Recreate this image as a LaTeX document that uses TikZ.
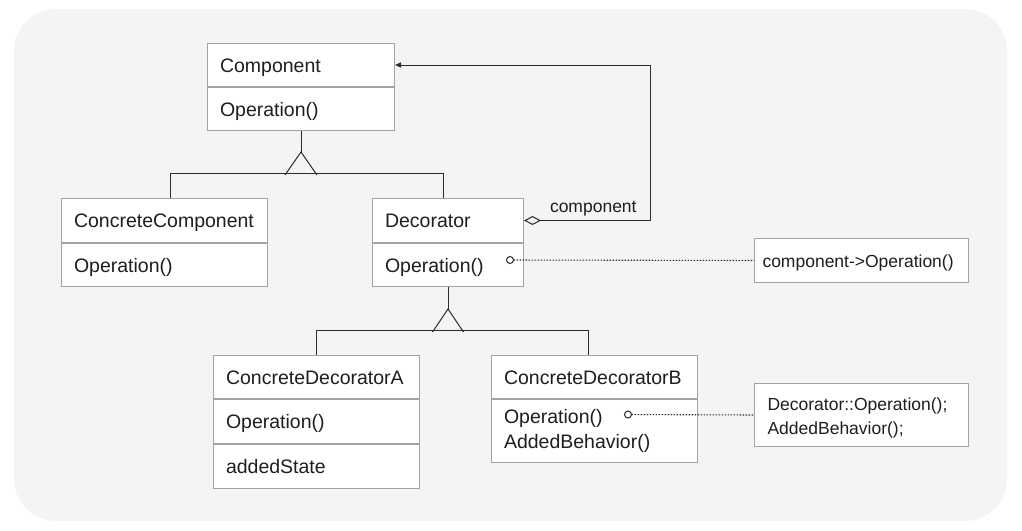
\documentclass[tikz,border=0pt]{standalone}
\usepackage{fontspec}
\setmainfont{Liberation Sans}
\usetikzlibrary{arrows.meta,calc}
\definecolor{panel}{HTML}{F4F4F2}
\definecolor{boxline}{HTML}{A3A3A3}
\definecolor{wire}{HTML}{2B2B2B}
\definecolor{ink}{HTML}{1E1E1E}
\newcommand\classfont{\fontsize{19.5}{25}\selectfont}
\newcommand\notefont{\fontsize{17.5}{24}\selectfont}

\begin{document}
\begin{tikzpicture}[x=1pt,y=-1pt,
  cell/.style={draw=boxline, fill=white, line width=1pt, anchor=north west,
    inner xsep=12.5pt, inner ysep=0pt, align=left, font=\classfont, text=ink},
  oneline/.style={text height=14pt, text depth=0pt},
  notebox/.style={cell, font=\notefont},
  wireline/.style={draw=wire, line width=1pt},
  dotline/.style={draw=wire, line width=1.1pt, dash pattern=on 1.5pt off 1.5pt,
    {Circle[open,length=8pt,width=8pt,line width=1pt]}-},
  lbl/.style={font=\notefont, text=ink, inner sep=0pt},
]
\useasboundingbox (0,0) rectangle (1022,530);
\fill[panel, rounded corners=42pt] (14,9) rectangle (1007,521);

% Component
\node[cell, oneline, text width=162pt, minimum height=43pt] (comph) at (207,43) {Component};
\node[cell, oneline, text width=162pt, minimum height=43pt] (compo) at (comph.south west) {Operation()};

% ConcreteComponent
\node[cell, oneline, text width=181pt, minimum height=44pt] (cch) at (61,198) {ConcreteComponent};
\node[cell, oneline, text width=181pt, minimum height=43pt] (cco) at (cch.south west) {Operation()};

% Decorator
\node[cell, oneline, text width=126pt, minimum height=44pt] (dech) at (372,198) {Decorator};
\node[cell, oneline, text width=126pt, minimum height=43pt] (deco) at (dech.south west) {Operation()};

% ConcreteDecoratorA
\node[cell, oneline, text width=181pt, minimum height=43pt] (cdah) at (213,355) {ConcreteDecoratorA};
\node[cell, oneline, text width=181pt, minimum height=44pt] (cdao) at (cdah.south west) {Operation()};
\node[cell, oneline, text width=181pt, minimum height=44pt] (cdas) at (cdao.south west) {addedState};

% ConcreteDecoratorB
\node[cell, oneline, text width=181pt, minimum height=43pt] (cdbh) at (491,355) {ConcreteDecoratorB};
\node[cell, text width=181pt, minimum height=63pt] (cdbo) at (cdbh.south west) {Operation()\\AddedBehavior()};

% Notes
\node[notebox, oneline, inner xsep=8pt, text width=198pt, minimum height=44pt] (note1) at (754,238) {component->Operation()};
\node[notebox, inner xsep=13pt, text width=188pt, minimum height=63pt] (note2) at (754,383)
  {\rule{0pt}{19pt}Decorator::Operation();\\AddedBehavior();};

% Generalization: ConcreteComponent, Decorator -> Component
% (the bar below closes the triangle)
\draw[wireline] (compo.south) -- ++(0,21) coordinate (apexa);
\draw[wireline] ($(apexa)+(-16,23)$) -- (apexa) -- ++(16,23);
\draw[wireline] ([xshift=6pt]cch.north) -- ++(0,-25) -| ([xshift=-4.5pt]dech.north);

% Generalization: ConcreteDecoratorA, ConcreteDecoratorB -> Decorator
\draw[wireline] (deco.south) -- ++(0,22) coordinate (apexb);
\draw[wireline] ($(apexb)+(-15.5,23)$) -- (apexb) -- ++(15.5,23);
\draw[wireline] (cdah.north) -- ++(0,-25) -| ([xshift=-6pt]cdbh.north);

% Aggregation: Decorator holds a Component
\draw[wireline, {Diamond[open,length=17pt,width=9pt]}-{Triangle[length=6pt,width=5pt]}]
  (dech.east) -- ++(126,0) node[lbl, pos=0.55, anchor=base, yshift=8pt] (agglbl) {component}
  |- (comph.east);

% Notes attached to operations
\coordinate (dcirc) at (506,260);
\draw[dotline] (dcirc) -- (note1.west);
\coordinate (bcirc) at (624,414.5);
\draw[dotline] (bcirc) -- (note2.west);
\end{tikzpicture}
\end{document}
